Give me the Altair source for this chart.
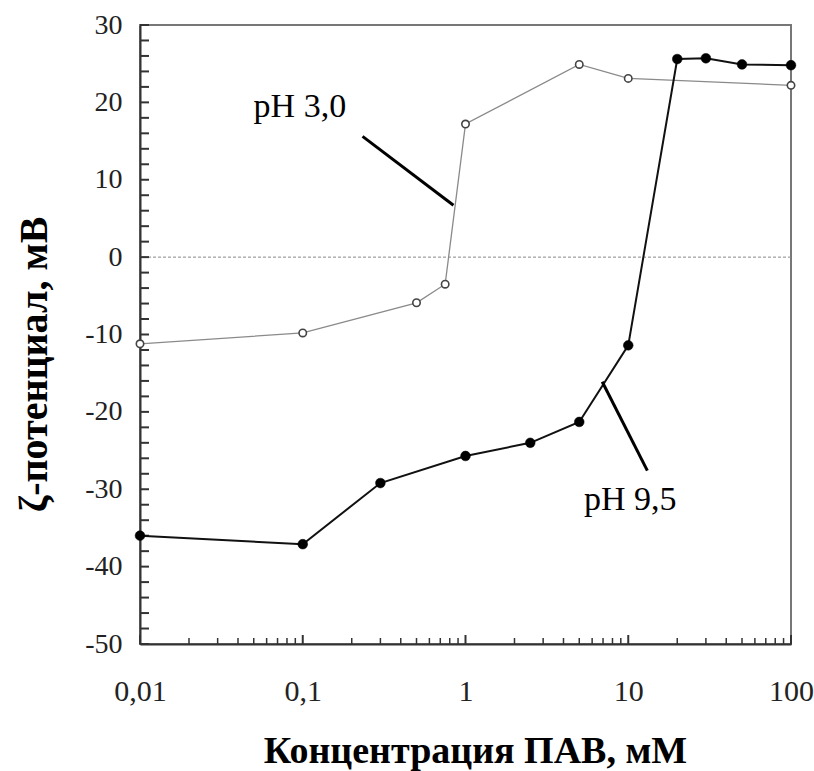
import altair as alt
import pandas as pd

# ---- data ----
x_ph3 = [0.01, 0.1, 0.5, 0.75, 1, 5, 10, 100]
y_ph3 = [-11.2, -9.8, -5.9, -3.5, 17.2, 24.9, 23.1, 22.2]

x_ph95 = [0.01, 0.1, 0.3, 1, 2.5, 5, 10, 20, 30, 50, 100]
y_ph95 = [-36.0, -37.1, -29.2, -25.7, -24.0, -21.3, -11.4, 25.6, 25.7, 24.9, 24.8]

x_ticks = [0.01, 0.1, 1, 10, 100]
x_tick_labels = ["0,01", "0,1", "1", "10", "100"]
y_ticks = [-50, -40, -30, -20, -10, 0, 10, 20, 30]
y_tick_labels = ["-50", "-40", "-30", "-20", "-10", "0", "10", "20", "30"]

x_minor = [m * d for d in [0.01, 0.1, 1, 10] for m in range(2, 10)]
y_minor = list(range(-50, 31, 2))

ann_text = ["pH 3,0", "pH 9,5"]
ann_tx = [0.096, 10.3]
ann_ty = [18.1, -32.7]
lead_x1 = [0.233, 6.92]
lead_y1 = [15.6, -16.1]
lead_x2 = [0.843, 13.1]
lead_y2 = [6.7, -27.6]

W, H = 651, 619
FONT = "Liberation Serif"

xs = alt.Scale(type="log", domain=[0.01, 100])
ys = alt.Scale(domain=[-50, 30], nice=False, zero=False)


def label_expr(vals, labs):
    e = "''"
    for v, l in zip(reversed(vals), reversed(labs)):
        e = f"(abs(datum.value - {v}) < {abs(v) * 1e-6 + 1e-9}) ? '{l}' : {e}"
    return e


df3 = pd.DataFrame({"x": x_ph3, "y": y_ph3})
df9 = pd.DataFrame({"x": x_ph95, "y": y_ph95})
dfann = pd.DataFrame({"t": ann_text, "x": ann_tx, "y": ann_ty})
dflead = pd.DataFrame({"x": lead_x1, "y": lead_y1, "x2": lead_x2, "y2": lead_y2})
dfxmin = pd.DataFrame({"x": x_minor})
dfxmaj = pd.DataFrame({"x": x_ticks})
dfymin = pd.DataFrame({"y": y_minor})

X_AXIS = alt.Axis(
    values=x_ticks, labelExpr=label_expr(x_ticks, x_tick_labels),
    ticks=False, tickSize=0, domain=True, domainColor="#333", domainWidth=2,
    grid=False, labelFont=FONT, labelFontSize=30, labelColor="#222",
    labelPadding=32, labelBaseline="top", labelFlush=False,
    title="Концентрация ПАВ, мМ", titleFont=FONT, titleFontSize=38,
    titleFontWeight="bold", titleColor="#000", titleBaseline="alphabetic",
    titleX=335, titleY=118, titleAnchor="middle")
Y_AXIS = alt.Axis(
    values=y_ticks, labelExpr=label_expr(y_ticks, y_tick_labels),
    ticks=False, tickSize=0, domain=True, domainColor="#333", domainWidth=2,
    grid=False, labelFont=FONT, labelFontSize=28, labelColor="#222",
    labelPadding=18, labelFlush=False,
    title="ζ-потенциал, мВ", titleFont=FONT, titleFontSize=40,
    titleFontWeight="bold", titleColor="#000", titleAngle=270,
    titleBaseline="alphabetic", titleX=-94, titleY=339, titleAnchor="middle")

XE = alt.X("x:Q", scale=xs, axis=X_AXIS)
YE = alt.Y("y:Q", scale=ys, axis=Y_AXIS)

zero = alt.Chart(pd.DataFrame({"y": [0]})).mark_rule(
    color="#888", strokeWidth=1, strokeDash=[3, 2]).encode(y=YE)

ytick = alt.Chart(dfymin).mark_rule(color="#333", strokeWidth=2).encode(
    y=YE, x=alt.value(0), x2=alt.value(9))
xtick_min = alt.Chart(dfxmin).mark_rule(color="#333", strokeWidth=1.5).encode(
    x=XE, y=alt.value(H), y2=alt.value(H - 6))
xtick_maj = alt.Chart(dfxmaj).mark_rule(color="#333", strokeWidth=2).encode(
    x=XE, y=alt.value(H), y2=alt.value(H - 9))

line3 = alt.Chart(df3).mark_line(color="#8a8a8a", strokeWidth=1.3).encode(x=XE, y=YE)
pts3 = alt.Chart(df3).mark_point(
    shape="circle", size=55, stroke="#444", strokeWidth=1.6, fill="white",
    fillOpacity=1, opacity=1, filled=False).encode(x=XE, y=YE)

line9 = alt.Chart(df9).mark_line(color="#111", strokeWidth=2).encode(x=XE, y=YE)
pts9 = alt.Chart(df9).mark_point(
    shape="circle", size=95, fill="#000", stroke="#000", strokeWidth=0.5,
    filled=True, opacity=1).encode(x=XE, y=YE)

leads = alt.Chart(dflead).mark_rule(color="#000", strokeWidth=3).encode(
    x=XE, y=YE, x2="x2:Q", y2="y2:Q")

texts = alt.Chart(dfann).mark_text(
    font=FONT, fontSize=34, color="#000", align="center",
    baseline="alphabetic").encode(x=XE, y=YE, text="t:N")

chart = alt.layer(
    zero, ytick, xtick_min, xtick_maj, line3, line9, pts3, pts9, leads, texts
).properties(
    width=W, height=H,
    padding={"left": 140, "top": 25, "right": 814 - 140 - W, "bottom": 771 - 25 - H},
    autosize=alt.AutoSizeParams(type="none"),
    background="white",
).configure_view(stroke="#777", strokeWidth=2)

chart.save("out.html", embed_options={"renderer": "svg", "actions": False})
